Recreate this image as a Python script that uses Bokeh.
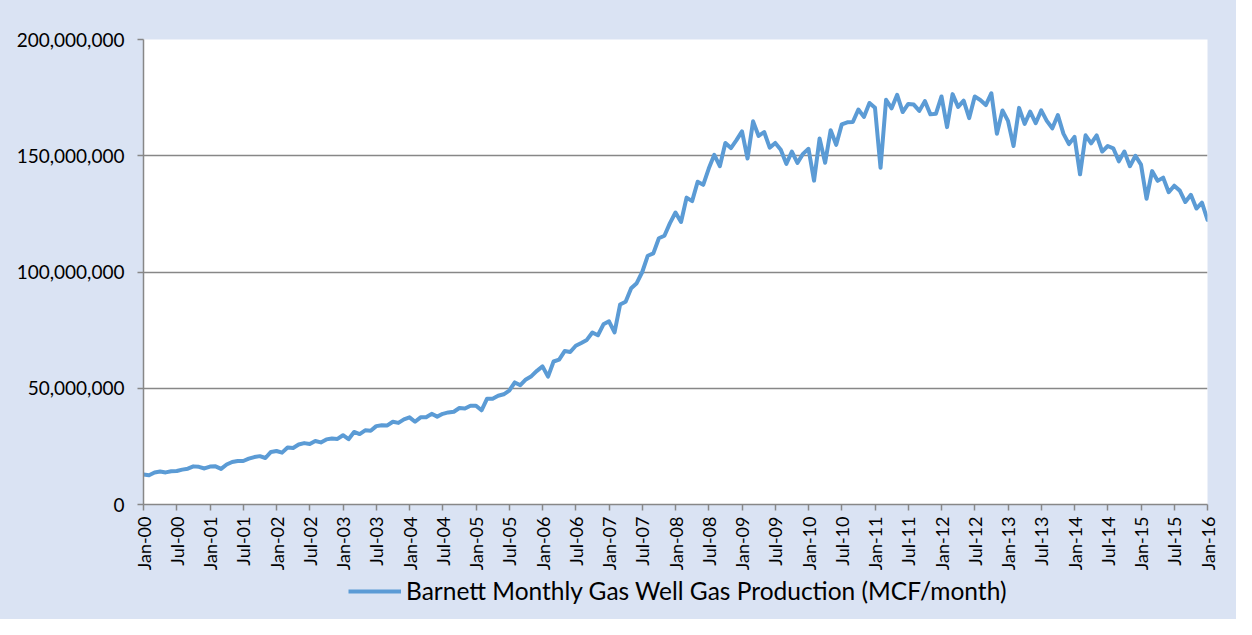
import math
from bokeh.plotting import figure
from bokeh.layouts import column
from bokeh.models import FixedTicker, NumeralTickFormatter, Legend, LegendItem, Range1d, ColumnDataSource
from bokeh.embed import file_html
from bokeh.resources import INLINE

# Monthly production, Jan-2000 .. Jan-2016 (millions of MCF/month)
production_millions = [
    12.9, 12.6, 13.8, 14.2, 13.8, 14.3, 14.4, 15.0, 15.4, 16.4, 16.2, 15.5,
    16.3, 16.4, 15.3, 17.2, 18.3, 18.7, 18.7, 19.7, 20.4, 20.8, 20.0, 22.6,
    23.0, 22.3, 24.5, 24.3, 25.8, 26.4, 26.0, 27.3, 26.7, 28.0, 28.4, 28.2,
    29.8, 28.1, 31.2, 30.3, 31.9, 31.7, 33.7, 34.1, 34.0, 35.6, 35.1, 36.6,
    37.5, 35.6, 37.5, 37.5, 39.0, 37.8, 39.0, 39.6, 39.9, 41.5, 41.3, 42.5,
    42.5, 40.5, 45.5, 45.5, 46.8, 47.4, 49.0, 52.5, 51.3, 53.8, 55.2, 57.5,
    59.4, 55.0, 61.5, 62.3, 66.0, 65.6, 68.3, 69.5, 70.8, 74.0, 72.8, 77.5,
    78.8, 74.0, 86.0, 87.2, 93.0, 95.2, 100.0, 107.0, 108.0, 114.5, 115.6, 121.0,
    125.6, 121.5, 132.0, 130.5, 138.8, 137.5, 144.5, 150.4, 145.5, 155.5, 153.3, 156.7,
    160.5, 148.8, 164.8, 158.5, 160.2, 153.5, 155.5, 152.6, 146.5, 151.8, 146.9, 150.8,
    153.0, 139.3, 157.4, 147.0, 161.0, 154.7, 163.5, 164.4, 164.5, 169.9, 166.7, 172.7,
    170.6, 144.8, 174.1, 170.4, 176.2, 168.8, 172.3, 172.0, 169.3, 173.5, 167.8, 168.1,
    175.5, 162.3, 176.5, 171.0, 173.7, 166.2, 175.5, 174.0, 171.8, 176.9, 159.5, 169.5,
    165.0, 154.2, 170.6, 163.7, 169.0, 164.0, 169.5, 165.0, 161.8, 167.5, 159.5, 155.0,
    158.1, 142.0, 158.8, 155.3, 158.8, 151.8, 154.2, 153.2, 147.6, 151.8, 145.5, 150.0,
    146.2, 131.5, 143.4, 139.2, 140.6, 134.3, 137.1, 135.0, 130.1, 133.2, 127.3, 129.8,
    122.4,
]
months = list(range(len(production_millions)))
production = [v * 1e6 for v in production_millions]

tick_months = list(range(0, 193, 6))
tick_labels = [("Jan-" if m % 12 == 0 else "Jul-") + "%02d" % (m // 12) for m in tick_months]
y_ticks = [0, 50e6, 100e6, 150e6, 200e6]

series_name = "Barnett Monthly Gas Well Gas Production (MCF/month)"

BG = "#DAE3F3"
LINE = "#5B9BD5"
GRID = "#878787"
FONT = "Lato"
LINE_W = 4

p = figure(width=1236, height=575, output_backend="svg", toolbar_location=None,
           x_range=Range1d(0, 192), y_range=Range1d(0, 200e6),
           min_border_left=143, min_border_right=29, min_border_top=39, min_border_bottom=71)
p.border_fill_color = BG
p.background_fill_color = "white"
p.outline_line_color = None

src = ColumnDataSource(dict(x=months, y=production))
p.line("x", "y", source=src, line_color=LINE, line_width=LINE_W, line_join="round", line_cap="round")

p.xgrid.grid_line_color = None
p.ygrid.grid_line_color = GRID
p.ygrid.grid_line_width = 1.5
p.ygrid.ticker = FixedTicker(ticks=y_ticks)

p.xaxis.ticker = FixedTicker(ticks=tick_months)
p.xaxis.major_label_overrides = {m: l for m, l in zip(tick_months, tick_labels)}
p.xaxis.major_label_orientation = math.pi / 2
p.yaxis.ticker = FixedTicker(ticks=y_ticks)
p.yaxis.formatter = NumeralTickFormatter(format="0,0")

for ax in (p.xaxis[0], p.yaxis[0]):
    ax.axis_line_color = GRID
    ax.axis_line_width = 1.5
    ax.major_tick_line_color = GRID
    ax.major_tick_line_width = 1.5
    ax.major_tick_out = 6
    ax.major_tick_in = 0
    ax.minor_tick_line_color = None
    ax.major_label_text_font = FONT
    ax.major_label_text_color = "black"
p.xaxis.major_label_standoff = 6
p.yaxis.major_label_standoff = 13
p.xaxis.major_label_text_font_size = "18px"
p.yaxis.major_label_text_font_size = "19px"

# legend strip below the chart (the series is out of this strip's range, only its legend shows)
leg = figure(width=1236, height=44, output_backend="svg", toolbar_location=None,
             x_range=Range1d(0, 1), y_range=Range1d(-2, -1),
             min_border_left=143, min_border_right=29, min_border_top=0, min_border_bottom=0)
leg.axis.visible = False
leg.grid.visible = False
leg.border_fill_color = BG
leg.background_fill_color = BG
leg.outline_line_color = None
sample = leg.line("x", "y", source=src, line_color=LINE, line_width=LINE_W)

legend = Legend(items=[LegendItem(label=series_name, renderers=[sample])], location=(205, 14),
                orientation="horizontal", background_fill_alpha=0,
                border_line_color=None, label_text_font=FONT, label_text_font_size="24.5px",
                label_text_color="black", glyph_width=53, label_standoff=5, padding=4, margin=0)
leg.add_layout(legend, "center")

layout = column(p, leg, spacing=0, styles={"background-color": BG})
open("out.html", "w").write(file_html(layout, INLINE))
